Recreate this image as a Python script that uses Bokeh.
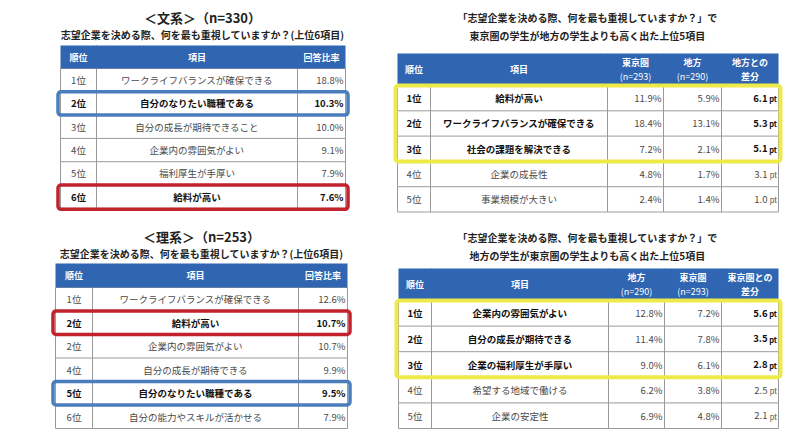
from bokeh.plotting import figure
from bokeh.models import ColumnDataSource, Range1d
from bokeh.core.properties import value, field
from bokeh.embed import file_html
from bokeh.resources import INLINE

FONT = "Noto Sans CJK JP"

# ---------------- data ----------------
bunkei_title = "＜文系＞（n=330）"
bunkei_sub = "志望企業を決める際、何を最も重視していますか？(上位6項目)"
bunkei_header = ["順位", "項目", "回答比率"]
bunkei_rank = ["1位", "2位", "3位", "4位", "5位", "6位"]
bunkei_item = ["ワークライフバランスが確保できる", "自分のなりたい職種である", "自分の成長が期待できること",
               "企業内の雰囲気がよい", "福利厚生が手厚い", "給料が高い"]
bunkei_rate = [18.8, 10.3, 10.0, 9.1, 7.9, 7.6]

rikei_title = "＜理系＞（n=253）"
rikei_sub = "志望企業を決める際、何を最も重視していますか？(上位6項目)"
rikei_header = ["順位", "項目", "回答比率"]
rikei_rank = ["1位", "2位", "2位", "4位", "5位", "6位"]
rikei_item = ["ワークライフバランスが確保できる", "給料が高い", "企業内の雰囲気がよい",
              "自分の成長が期待できる", "自分のなりたい職種である", "自分の能力やスキルが活かせる"]
rikei_rate = [12.6, 10.7, 10.7, 9.9, 9.5, 7.9]

tokyo_title = ["「志望企業を決める際、何を最も重視していますか？」で", "東京圏の学生が地方の学生よりも高く出た上位5項目"]
tokyo_header = ["順位", "項目", "東京圏\n(n=293)", "地方\n(n=290)", "地方との\n差分"]
tokyo_rank = ["1位", "2位", "3位", "4位", "5位"]
tokyo_item = ["給料が高い", "ワークライフバランスが確保できる", "社会の課題を解決できる", "企業の成長性", "事業規模が大きい"]
tokyo_tokyo = [11.9, 18.4, 7.2, 4.8, 2.4]
tokyo_chiho = [5.9, 13.1, 2.1, 1.7, 1.4]
tokyo_diff = [6.1, 5.3, 5.1, 3.1, 1.0]

chiho_title = ["「志望企業を決める際、何を最も重視していますか？」で", "地方の学生が東京圏の学生よりも高く出た上位5項目"]
chiho_header = ["順位", "項目", "地方\n(n=290)", "東京圏\n(n=293)", "東京圏との\n差分"]
chiho_rank = ["1位", "2位", "3位", "4位", "5位"]
chiho_item = ["企業内の雰囲気がよい", "自分の成長が期待できる", "企業の福利厚生が手厚い", "希望する地域で働ける", "企業の安定性"]
chiho_chiho = [12.8, 11.4, 9.0, 6.2, 6.9]
chiho_tokyo = [7.2, 7.8, 6.1, 3.8, 4.8]
chiho_diff = [5.6, 3.5, 2.8, 2.5, 2.1]

# ---------------- styles ----------------
HEADER_BLUE = "#2f65b1"
GRID = "#9a9a9a"
BLUE_BOX = "#4a7dbc"
RED_BOX = "#c1222c"
YELLOW_BOX = "#eeea4a"

p = figure(width=792, height=433, output_backend="svg", toolbar_location=None,
           x_range=Range1d(0, 792), y_range=Range1d(433, 0),
           x_axis_location=None, y_axis_location=None, min_border=0)
p.grid.visible = False
p.outline_line_color = None
p.background_fill_color = "white"
p.border_fill_color = "white"

T = dict(x=[], y=[], text=[], size=[], align=[], style=[], color=[])


def add_text(x, y, t, size, align="center", bold=False, color="#333333"):
    T["x"].append(x)
    T["y"].append(y)
    T["text"].append(t)
    T["size"].append(f"{size}px")
    T["align"].append(align)
    T["style"].append("bold" if bold else "normal")
    T["color"].append(color)


SEG = dict(x0=[], y0=[], x1=[], y1=[], c=[])


def seg(x0, y0, x1, y1, c=GRID):
    SEG["x0"].append(x0); SEG["y0"].append(y0)
    SEG["x1"].append(x1); SEG["y1"].append(y1)
    SEG["c"].append(c)


def draw_table(xe, ytop, hh, rh, header, columns, bold_rows, pt_col=None, hsize=9):
    n = len(columns[0])
    ybot_h = ytop + hh
    p.quad(left=xe[0], right=xe[-1], top=ytop, bottom=ybot_h,
           fill_color=HEADER_BLUE, line_color=None)
    for j, h in enumerate(header):
        cx = (xe[j] + xe[j + 1]) / 2
        lines = h.split("\n")
        if len(lines) == 1:
            add_text(cx, ytop + hh / 2, lines[0], hsize, bold=True, color="white")
        else:
            add_text(cx, ytop + hh / 2 - 7, lines[0], hsize, bold=True, color="white")
            add_text(cx, ytop + hh / 2 + 7, lines[1], hsize,
                     bold=not lines[1].startswith("("), color="white")
    for j in range(1, len(xe) - 1):
        seg(xe[j], ytop, xe[j], ybot_h, "#8aa8d6")
    yb = ybot_h + n * rh
    for j in range(len(xe)):
        seg(xe[j], ybot_h, xe[j], yb)
    for i in range(n + 1):
        seg(xe[0], ybot_h + i * rh, xe[-1], ybot_h + i * rh)
    for i in range(n):
        cy = ybot_h + (i + 0.5) * rh
        b = i in bold_rows
        col = "#111111" if b else "#4a4a4a"
        for j, colvals in enumerate(columns):
            v = colvals[i]
            if j == 0:
                add_text((xe[0] + xe[1]) / 2, cy, v, 9.5, bold=b, color=col)
            elif j == 1:
                add_text((xe[1] + xe[2]) / 2, cy, v, 9.5, bold=b, color=col)
            elif pt_col is not None and j == pt_col:
                add_text(xe[j + 1] - 11, cy, f"{v:.1f}", 9.5, align="right", bold=b, color=col)
                add_text(xe[j + 1] - 1.5, cy + 0.5, "pt", 7.5, align="right", bold=b, color=col)
            else:
                vb = b and pt_col is None
                add_text(xe[j + 1] - 2, cy, f"{v:.1f}%", 9.5, align="right", bold=vb,
                         color="#111111" if vb else "#4a4a4a")
    return ybot_h


def box(x0, x1, y0, y1, color, w):
    p.quad(left=x0, right=x1, top=y0, bottom=y1, fill_alpha=0,
           line_color=color, line_width=w, border_radius=3)


# ---- table 1: 文系 ----
add_text(202, 17, bunkei_title, 13, bold=True, color="#222222")
add_text(202, 34, bunkei_sub, 10, bold=True, color="#222222")
xe1 = [60, 96, 297, 345]
rh1 = 23.3
hb1 = draw_table(xe1, 45, 23, rh1, bunkei_header, [bunkei_rank, bunkei_item, bunkei_rate], {1, 5})
box(57.5, 347.5, hb1 + 1 * rh1, hb1 + 2 * rh1, BLUE_BOX, 3.5)
box(57.5, 347.5, hb1 + 5 * rh1, hb1 + 6 * rh1 + 1, RED_BOX, 3.5)

# ---- table 2: 理系 ----
add_text(201, 236, rikei_title, 13, bold=True, color="#222222")
add_text(201, 253, rikei_sub, 10, bold=True, color="#222222")
xe2 = [55, 92, 298, 347]
rh2 = 23.5
hb2 = draw_table(xe2, 263, 24, rh2, rikei_header, [rikei_rank, rikei_item, rikei_rate], {1, 4})
box(52.5, 349.5, hb2 + 1 * rh2, hb2 + 2 * rh2, RED_BOX, 3.5)
box(52.5, 349.5, hb2 + 4 * rh2, hb2 + 5 * rh2, BLUE_BOX, 3.5)

# ---- table 3: 東京圏 > 地方 ----
add_text(587, 17, tokyo_title[0], 10, bold=True, color="#222222")
add_text(587, 35, tokyo_title[1], 10, bold=True, color="#222222")
xe3 = [397, 430, 607, 663, 721, 778]
rh3 = 25.3
hb3 = draw_table(xe3, 53, 32, rh3, tokyo_header,
                 [tokyo_rank, tokyo_item, tokyo_tokyo, tokyo_chiho, tokyo_diff], {0, 1, 2}, pt_col=4)
box(395, 780, hb3, hb3 + 3 * rh3, YELLOW_BOX, 4)

# ---- table 4: 地方 > 東京圏 ----
add_text(587, 237, chiho_title[0], 10, bold=True, color="#222222")
add_text(587, 255, chiho_title[1], 10, bold=True, color="#222222")
xe4 = [398, 431, 608, 664, 721, 778]
rh4 = 25.6
hb4 = draw_table(xe4, 268, 32, rh4, chiho_header,
                 [chiho_rank, chiho_item, chiho_chiho, chiho_tokyo, chiho_diff], {0, 1, 2}, pt_col=4)
box(396, 780, hb4, hb4 + 3 * rh4, YELLOW_BOX, 4)

# draw grid lines and texts
p.segment(x0="x0", y0="y0", x1="x1", y1="y1", line_color="c", line_width=1,
          source=ColumnDataSource(SEG), level="underlay")
p.text(x="x", y="y", text="text", source=ColumnDataSource(T),
       text_font=value(FONT), text_font_size=field("size"), text_align=field("align"),
       text_font_style=field("style"), text_color=field("color"), text_baseline="middle")

open("out.html", "w").write(file_html(p, INLINE))
